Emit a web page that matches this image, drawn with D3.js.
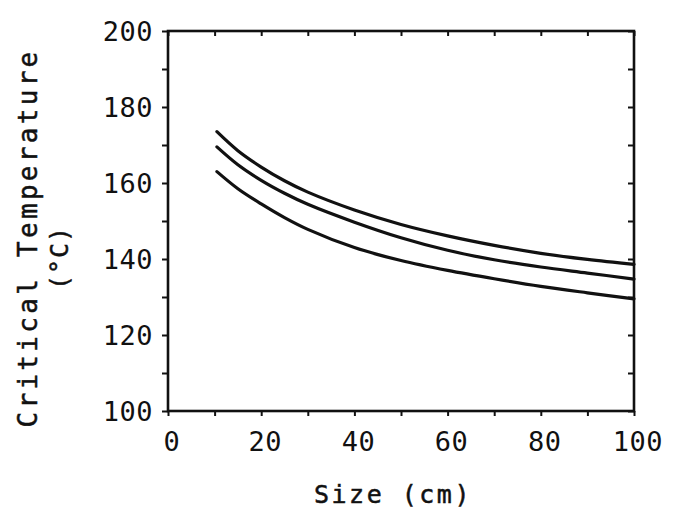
<!DOCTYPE html>
<html><head><meta charset="utf-8">
<script src="https://cdn.jsdelivr.net/npm/d3@7"></script>
<style>body{margin:0;background:#fff}</style>
</head><body>
<script>
const xTicks = [0, 20, 40, 60, 80, 100];
const yTicks = [100, 120, 140, 160, 180, 200];
const sizeTop = [10.5, 15, 20, 25, 30, 40, 50, 60, 70, 80, 90, 100];
const tempTop = [173.5, 168.5, 164.2, 160.6, 157.6, 152.9, 149.1, 146.1, 143.6, 141.5, 139.9, 138.6];
const sizeMid = [10.5, 15, 20, 25, 30, 40, 50, 60, 70, 80, 90, 100];
const tempMid = [169.5, 164.8, 160.7, 157.3, 154.4, 149.7, 145.6, 142.3, 139.8, 137.9, 136.3, 134.7];
const sizeLow = [10.5, 15, 20, 25, 30, 40, 50, 60, 70, 80, 90, 100];
const tempLow = [163, 158.5, 154.5, 150.9, 147.8, 143, 139.6, 137, 134.8, 132.8, 131.1, 129.5];
const xTitle = "Size (cm)";
const yTitle1 = "Critical Temperature";
const yTitle2 = "(°C)";

(function () {
const W = 674, H = 513;
const L = 168, R = 634, T = 31, B = 411;
const svg = d3.select("body").append("svg").attr("width", W).attr("height", H);
const x = d3.scaleLinear().domain([0, 100]).range([L, R]);
const y = d3.scaleLinear().domain([100, 200]).range([B, T]);
const minor = d3.range(0, 101, 10);
const minorY = d3.range(100, 201, 10);
const ink = "#111";
const font = "'DejaVu Sans Mono', monospace";

svg.append("rect").attr("x", L).attr("y", T).attr("width", R - L).attr("height", B - T)
  .attr("fill", "none").attr("stroke", ink).attr("stroke-width", 2.6);

const gLeft = svg.append("g").attr("transform", `translate(${L},0)`)
  .call(d3.axisLeft(y).tickValues(minorY).tickSize(6).tickFormat(""));
gLeft.select(".domain").remove();
gLeft.selectAll("line").attr("stroke", ink).attr("stroke-width", 2);

const gRight = svg.append("g").attr("transform", `translate(${R},0)`)
  .call(d3.axisRight(y).tickValues(minorY).tickSize(-6).tickFormat(""));
gRight.select(".domain").remove();
gRight.selectAll("line").attr("stroke", ink).attr("stroke-width", 2);

const gTop = svg.append("g").attr("transform", `translate(0,${T})`)
  .call(d3.axisBottom(x).tickValues(minor).tickSize(5).tickFormat(""));
gTop.select(".domain").remove();
gTop.selectAll("line").attr("stroke", ink).attr("stroke-width", 2);

const gBot = svg.append("g").attr("transform", `translate(0,${B})`)
  .call(d3.axisBottom(x).tickValues(minor).tickSize(5).tickFormat(""));
gBot.select(".domain").remove();
gBot.selectAll("line").attr("stroke", ink).attr("stroke-width", 2);

svg.append("g").selectAll("text").data(yTicks).join("text")
  .attr("x", L - 15).attr("y", d => y(d)).attr("dy", "0.36em")
  .attr("text-anchor", "end").attr("font-family", font).attr("font-size", 27)
  .attr("letter-spacing", 0.5).attr("fill", ink).text(d => d);
svg.append("g").selectAll("text").data(xTicks).join("text")
  .attr("x", d => x(d) + 4).attr("y", B + 40)
  .attr("text-anchor", "middle").attr("font-family", font).attr("font-size", 27)
  .attr("letter-spacing", 0.5).attr("fill", ink).text(d => d);

svg.append("text").attr("x", 393).attr("y", 503).attr("text-anchor", "middle")
  .attr("font-family", font).attr("font-size", 25).attr("letter-spacing", 2.5)
  .attr("fill", ink).attr("stroke", ink).attr("stroke-width", 0.5).text(xTitle);
svg.append("text").attr("transform", "translate(37,238) rotate(-90)").attr("text-anchor", "middle")
  .attr("font-family", font).attr("font-size", 26).attr("letter-spacing", 3.3)
  .attr("fill", ink).attr("stroke", ink).attr("stroke-width", 0.5).text(yTitle1);
svg.append("text").attr("transform", "translate(68,258) rotate(-90)").attr("text-anchor", "middle")
  .attr("font-family", font).attr("font-size", 25).attr("letter-spacing", 1)
  .attr("fill", ink).attr("stroke", ink).attr("stroke-width", 0.5).text(yTitle2);

const line = d3.line().x(d => x(d[0])).y(d => y(d[1])).curve(d3.curveCatmullRom.alpha(0.5));
const series = [[sizeTop, tempTop], [sizeMid, tempMid], [sizeLow, tempLow]];
series.forEach(([xs, ys]) => {
  svg.append("path").datum(xs.map((v, i) => [v, ys[i]]))
    .attr("d", line).attr("fill", "none").attr("stroke", ink)
    .attr("stroke-width", 3.2).attr("stroke-linecap", "round");
});
})();
</script>
</body></html>
